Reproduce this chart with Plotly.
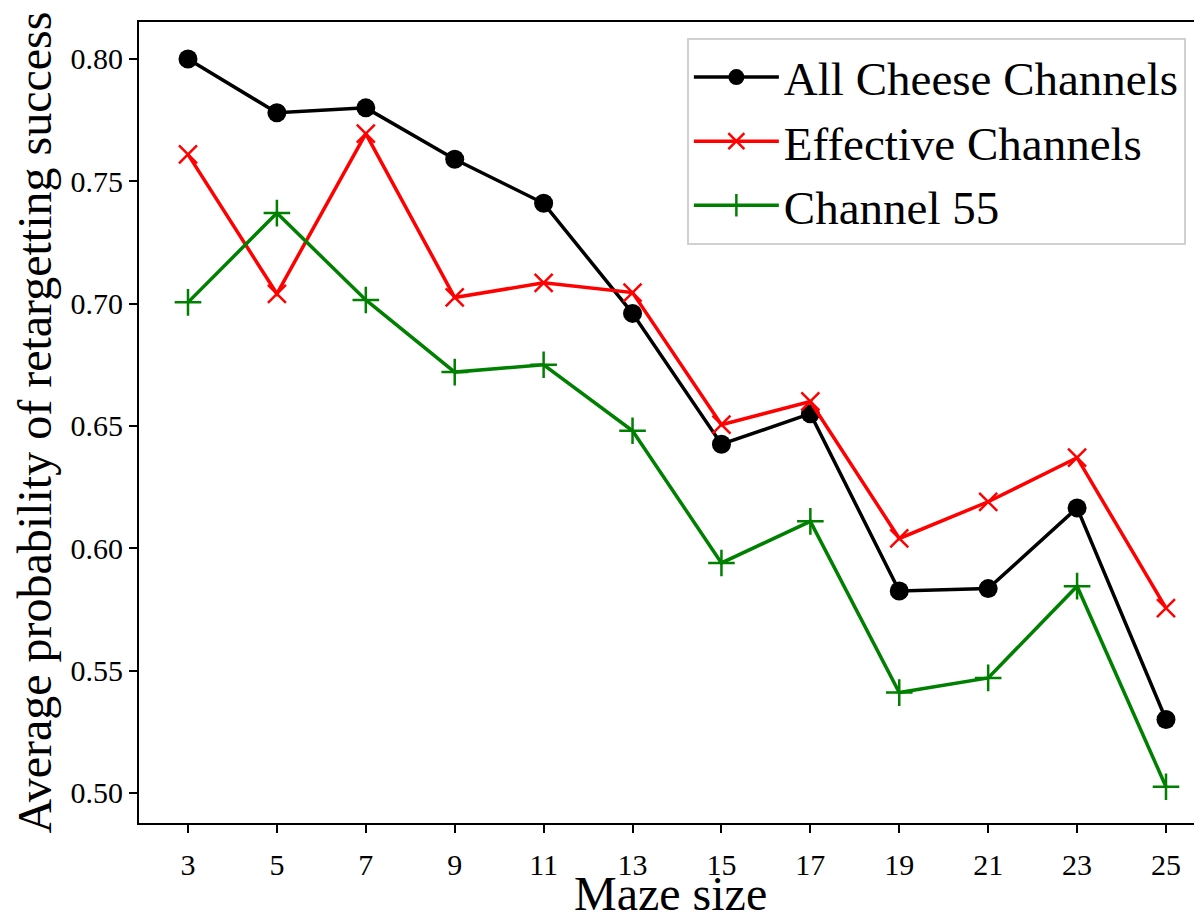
import plotly.graph_objects as go

maze_sizes = [3, 5, 7, 9, 11, 13, 15, 17, 19, 21, 23, 25]
all_cheese = [0.800, 0.778, 0.780, 0.759, 0.741, 0.696, 0.6425, 0.655, 0.5825, 0.5835, 0.6165, 0.530]
effective = [0.761, 0.704, 0.7695, 0.7025, 0.7085, 0.7045, 0.6505, 0.660, 0.604, 0.619, 0.637, 0.5755]
channel55 = [0.7005, 0.737, 0.7015, 0.672, 0.675, 0.648, 0.594, 0.611, 0.541, 0.547, 0.5845, 0.5025]
y_ticks = [0.50, 0.55, 0.60, 0.65, 0.70, 0.75, 0.80]

font = "Liberation Serif, Times New Roman, serif"

fig = go.Figure()
fig.add_trace(go.Scatter(x=maze_sizes, y=all_cheese, name="All Cheese Channels",
                         mode="lines+markers", line=dict(color="black", width=3.5),
                         marker=dict(symbol="circle", size=19, color="black")))
fig.add_trace(go.Scatter(x=maze_sizes, y=effective, name="Effective Channels",
                         mode="lines+markers", line=dict(color="red", width=3.5),
                         marker=dict(symbol="x-thin", size=18, color="red",
                                     line=dict(color="red", width=2.5))))
fig.add_trace(go.Scatter(x=maze_sizes, y=channel55, name="Channel 55",
                         mode="lines+markers", line=dict(color="green", width=3.5),
                         marker=dict(symbol="cross-thin", size=19, color="green",
                                     line=dict(color="green", width=2.5))))

# page body has an 8px margin, so the figure is offset by (8, 8)
fig.update_layout(
    width=1194, height=915,
    margin=dict(l=131, r=0, t=14, b=100),
    paper_bgcolor="white", plot_bgcolor="white",
    font=dict(family=font, color="black"),
    showlegend=True,
    legend=dict(x=0.5154, y=0.98, xanchor="left", yanchor="top",
                font=dict(size=47, family=font), bgcolor="rgba(255,255,255,0.8)",
                bordercolor="#d0d0d0", borderwidth=2, itemwidth=85,
                tracegroupgap=0),
    xaxis=dict(range=[1.898, 25.81], tickvals=maze_sizes, ticktext=[str(v) for v in maze_sizes],
               showgrid=False, zeroline=False, showline=True, linecolor="black", linewidth=2,
               mirror=True, ticks="outside", ticklen=8, tickwidth=2, tickcolor="black",
               tickfont=dict(size=30, family=font), automargin=False,
               ticklabelstandoff=6),
    yaxis=dict(range=[0.4877, 0.8151], tickvals=y_ticks, ticktext=[f"{v:.2f}" for v in y_ticks],
               showgrid=False, zeroline=False, showline=True, linecolor="black", linewidth=2,
               mirror=False, ticks="outside", ticklen=8, tickwidth=2, tickcolor="black",
               tickfont=dict(size=30, family=font), automargin=False,
               title=dict(text="Average probability of retargetting success",
                          font=dict(size=48, family=font), standoff=12)),
    annotations=[dict(text="Maze size", xref="paper", yref="paper", x=0.5, y=-0.1236,
                      xanchor="center", yanchor="bottom", showarrow=False,
                      font=dict(size=48, family=font, color="black"))],
)

fig.write_html("out.html")
